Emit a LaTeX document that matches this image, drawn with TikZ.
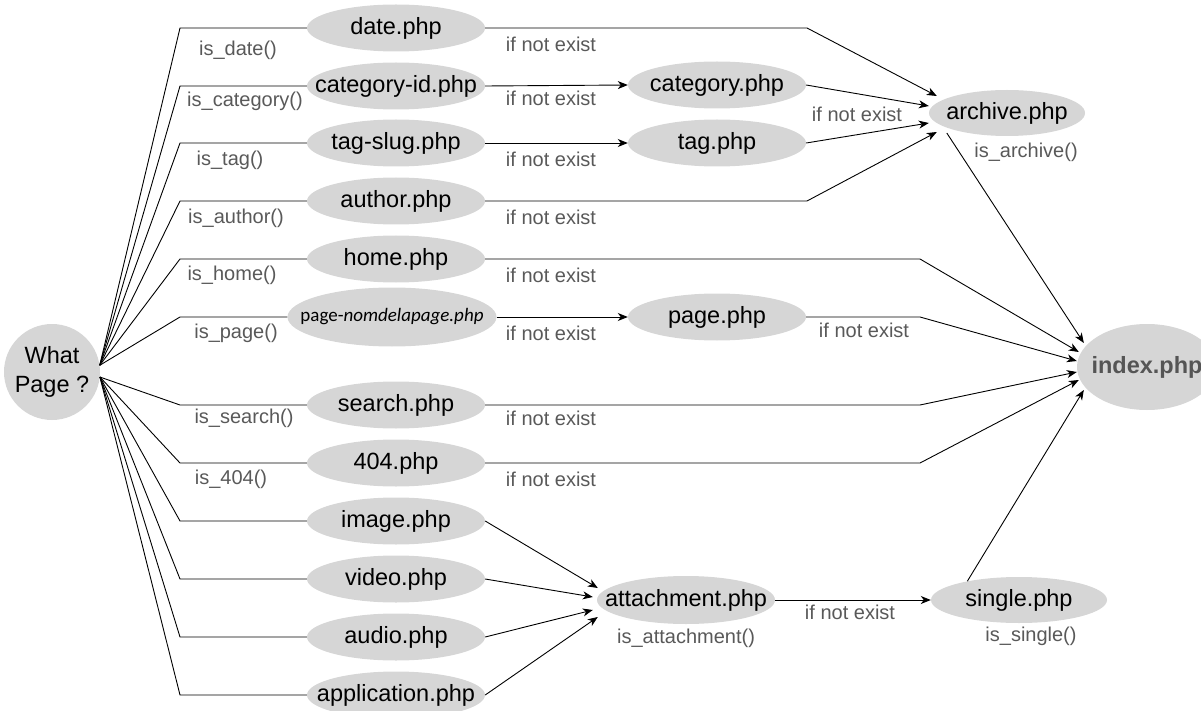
\documentclass[tikz,border=0pt]{standalone}
\usepackage{fontspec}
\setmainfont{Liberation Sans}
\newfontfamily\carl{Carlito}
\usetikzlibrary{shapes.geometric,arrows.meta}
\definecolor{nodefill}{RGB}{214,214,214}
\definecolor{lblgray}{RGB}{89,89,89}
\definecolor{idxtext}{RGB}{85,85,85}
\newcommand{\zw}[1]{\makebox[0pt]{#1}}
\begin{document}
\begin{tikzpicture}[x=1pt,y=-1pt,
  php/.style={ellipse, fill=nodefill, minimum width=178pt, minimum height=47pt, inner sep=0pt, font=\fontsize{23.5}{27}\selectfont, text=black},
  lbl/.style={font=\fontsize{20}{24}\selectfont, text=lblgray, inner sep=0pt},
  con/.style={draw=black, line width=0.9pt},
  arr/.style={con, -{Stealth[length=10pt,width=8pt,inset=3pt]}},
]
\useasboundingbox (0,0) rectangle (1201,711);
\coordinate (fan) at (180,0);
\coordinate (bend) at (807,0);
\coordinate (bendb) at (920,0);

% nodes
\node[circle, fill=nodefill, minimum size=96pt, inner sep=0pt, align=center, font=\fontsize{23.5}{29}\selectfont] (wp) at (52,372) {What\\Page ?};
\node[php] (date) at (396,28) {\zw{date.php}};
\node[php] (catid) at (396,86) {\zw{category-id.php}};
\node[php] (tagslug) at (396,143) {\zw{tag-slug.php}};
\node[php] (author) at (396,201) {\zw{author.php}};
\node[php] (home) at (396,259) {\zw{home.php}};
\node[php, minimum width=209pt, minimum height=59pt, font=\carl\fontsize{19}{22}\selectfont] (pn) at (392,317) {\zw{page-\textit{nomdelapage.php}}};
\node[php] (search) at (396,405) {\zw{search.php}};
\node[php] (e404) at (396,463) {\zw{404.php}};
\node[php] (image) at (396,521) {\zw{image.php}};
\node[php] (video) at (396,579) {\zw{video.php}};
\node[php] (audio) at (396,637) {\zw{audio.php}};
\node[php] (appl) at (396,695) {\zw{application.php}};
\node[php] (cat) at (717,85) {\zw{category.php}};
\node[php] (tag) at (717,143) {\zw{tag.php}};
\node[php] (page) at (717,317) {\zw{page.php}};
\node[php, minimum width=156pt, minimum height=46pt] (arch) at (1007,113) {\zw{archive.php}};
\node[php, minimum width=140pt, minimum height=86pt, font=\bfseries\fontsize{23.5}{27}\selectfont, text=idxtext] (idx) at (1147,367) {\zw{index.php}};
\node[php, minimum height=48pt] (att) at (686,600) {\zw{attachment.php}};
\node[php, minimum width=176pt, minimum height=46pt] (single) at (1019,600) {\zw{single.php}};

% labels
\node[lbl] (l1) at (238,50) {is\_date()};
\node[lbl] (l2) at (245,101) {is\_category()};
\node[lbl] (l3) at (230,160) {is\_tag()};
\node[lbl] (l4) at (236,218) {is\_author()};
\node[lbl] (l5) at (232,275) {is\_home()};
\node[lbl] (l6) at (236,333) {is\_page()};
\node[lbl] (l7) at (244,418) {is\_search()};
\node[lbl] (l8) at (231,479) {is\_404()};
\node[lbl] (n1) at (551,44) {if not exist};
\node[lbl] (n2) at (551,98) {if not exist};
\node[lbl] (n3) at (551,159) {if not exist};
\node[lbl] (n4) at (551,217) {if not exist};
\node[lbl] (n5) at (551,275) {if not exist};
\node[lbl] (n6) at (551,333) {if not exist};
\node[lbl] (n7) at (551,418) {if not exist};
\node[lbl] (n8) at (551,479) {if not exist};
\node[lbl] (n9) at (857,114) {if not exist};
\node[lbl] (n10) at (864,330) {if not exist};
\node[lbl] (n11) at (850,612) {if not exist};
\node[lbl] (la) at (1026,152) {is\_archive()};
\node[lbl] (lb) at (686,638) {is\_attachment()};
\node[lbl] (lc) at (1031,636) {is\_single()};

% fan from What Page
\foreach \n in {date,catid,tagslug,author,home,pn}
  \draw[con] (wp.8) -- (fan |- \n.west) -- (\n.west);
\foreach \n in {search,e404,image,video,audio,appl}
  \draw[con] (wp.-6) -- (fan |- \n.west) -- (\n.west);

% to archive
\draw[arr] (date.east) -- (bend |- date.east) -- ([xshift=8pt,yshift=17pt]arch.west);
\draw[arr] (catid.east) -- (cat.west);
\draw[arr] (tagslug.east) -- (tag.west);
\draw[arr] (cat.east) -- ([yshift=7pt]arch.west);
\draw[arr] (tag.east) -- ([yshift=-10pt]arch.west);
\draw[arr] (author.east) -- (bend |- author.east) -- ([xshift=8pt,yshift=-19pt]arch.west);

% to index
\draw[arr] ([xshift=18pt,yshift=-20pt]arch.west) -- ([xshift=7pt,yshift=24pt]idx.west);
\draw[arr] (home.east) -- (bendb |- home.east) -- ([xshift=2pt,yshift=15pt]idx.west);
\draw[arr] (pn.east) -- (page.west);
\draw[arr] (page.east) -- (bendb |- page.east) -- ([yshift=6pt]idx.west);
\draw[arr] (search.east) -- (bendb |- search.east) -- ([yshift=-5pt]idx.west);
\draw[arr] (e404.east) -- (bendb |- e404.east) -- ([xshift=2pt,yshift=-13pt]idx.west);
\draw[arr] (single.160) -- ([xshift=7pt,yshift=-23pt]idx.west);

% attachments
\draw[arr] (image.east) -- ([xshift=1pt,yshift=12pt]att.west);
\draw[arr] (video.east) -- ([xshift=-4pt,yshift=3pt]att.west);
\draw[arr] (audio.east) -- ([xshift=-4pt,yshift=-10pt]att.west);
\draw[arr] (appl.east) -- ([xshift=1pt,yshift=-17pt]att.west);
\draw[arr] (att.east) -- (single.west);
\end{tikzpicture}
\end{document}
